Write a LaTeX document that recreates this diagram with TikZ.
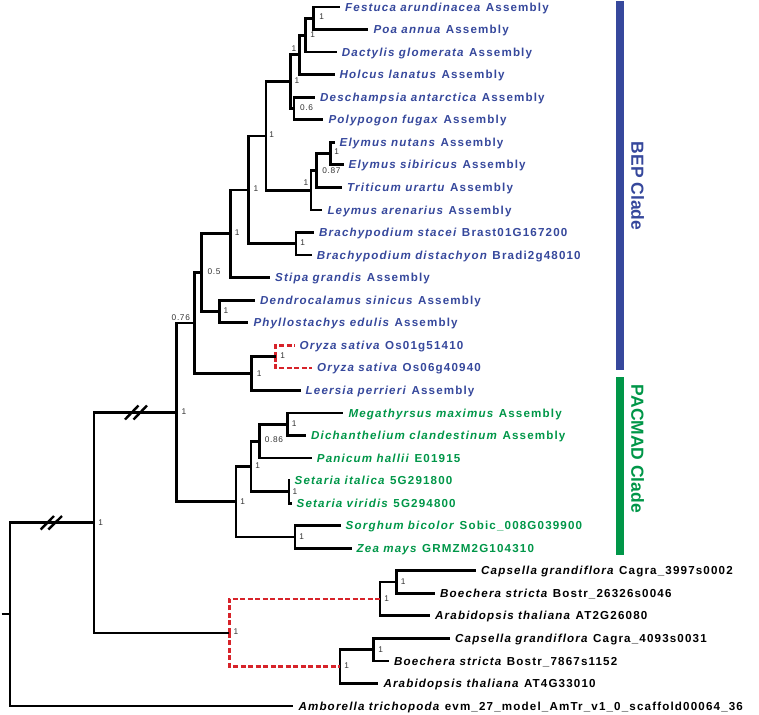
\documentclass[tikz,border=0pt]{standalone}
\usepackage{fontspec}
\setmainfont{Liberation Sans}
\newfontfamily\leaffam[LetterSpace=10]{Liberation Sans}
\newfontfamily\labfam[LetterSpace=8]{Liberation Sans}
\definecolor{bepblue}{RGB}{54,72,156}
\definecolor{pacgreen}{RGB}{0,150,72}
\definecolor{dupred}{RGB}{215,35,42}
\tikzset{
 br/.style={line width=2.8pt, draw=black},
 bb/.style={line width=2.3pt, draw=black},
 dupbr/.style={line width=2.6pt, draw=dupred, dash pattern=on 5pt off 2.5pt},
 leaftext/.style={anchor=base west, inner sep=0pt, font=\leaffam\bfseries\fontsize{11.6}{13}\selectfont},
 bs/.style={inner sep=0pt, font=\labfam\fontsize{8.3}{9}\selectfont, text=black!80},
 slashmark/.style={line width=2.4pt, draw=black},
 cladetext/.style={rotate=-90, inner sep=0pt, font=\bfseries\fontsize{17.5}{20}\selectfont}
}
\newcommand\leafat[6]{\coordinate (#1) at (#2,#3); \node[leaftext,text=#4] (#1t) at ([xshift=5pt,yshift=-4.1pt]#1) {\textit{#5} #6};}
\begin{document}
\begin{tikzpicture}[x=1pt,y=-1pt]
\useasboundingbox (0,0) rectangle (759,714);
% leaves
\leafat{L1}{340}{7}{bepblue}{Festuca arundinacea}{Assembly}
\leafat{L2}{368.3}{29.55}{bepblue}{Poa annua}{Assembly}
\leafat{L3}{336.7}{52.1}{bepblue}{Dactylis glomerata}{Assembly}
\leafat{L4}{334.5}{74.65}{bepblue}{Holcus lanatus}{Assembly}
\leafat{L5}{315}{97.2}{bepblue}{Deschampsia antarctica}{Assembly}
\leafat{L6}{323.3}{119.75}{bepblue}{Polypogon fugax}{Assembly}
\leafat{L7}{334.5}{142.3}{bepblue}{Elymus nutans}{Assembly}
\leafat{L8}{343.5}{164.85}{bepblue}{Elymus sibiricus}{Assembly}
\leafat{L9}{342}{187.4}{bepblue}{Triticum urartu}{Assembly}
\leafat{L10}{322.3}{209.95}{bepblue}{Leymus arenarius}{Assembly}
\leafat{L11}{314}{232.5}{bepblue}{Brachypodium stacei}{Brast01G167200}
\leafat{L12}{311.7}{255.05}{bepblue}{Brachypodium distachyon}{Bradi2g48010}
\leafat{L13}{270}{277.6}{bepblue}{Stipa grandis}{Assembly}
\leafat{L14}{255}{300.15}{bepblue}{Dendrocalamus sinicus}{Assembly}
\leafat{L15}{248.3}{322.7}{bepblue}{Phyllostachys edulis}{Assembly}
\leafat{L16}{294.5}{345.25}{bepblue}{Oryza sativa}{Os01g51410}
\leafat{L17}{312}{367.8}{bepblue}{Oryza sativa}{Os06g40940}
\leafat{L18}{300.5}{390.35}{bepblue}{Leersia perrieri}{Assembly}
\leafat{L19}{343.3}{412.9}{pacgreen}{Megathyrsus maximus}{Assembly}
\leafat{L20}{306}{435.45}{pacgreen}{Dichanthelium clandestinum}{Assembly}
\leafat{L21}{311.7}{458}{pacgreen}{Panicum hallii}{E01915}
\leafat{L22}{289.5}{480.55}{pacgreen}{Setaria italica}{5G291800}
\leafat{L23}{291.5}{503.1}{pacgreen}{Setaria viridis}{5G294800}
\leafat{L24}{340.5}{525.65}{pacgreen}{Sorghum bicolor}{Sobic\_008G039900}
\leafat{L25}{351.5}{548.2}{pacgreen}{Zea mays}{GRMZM2G104310}
\leafat{L26}{476}{570.75}{black}{Capsella grandiflora}{Cagra\_3997s0002}
\leafat{L27}{435}{593.3}{black}{Boechera stricta}{Bostr\_26326s0046}
\leafat{L28}{430}{615.85}{black}{Arabidopsis thaliana}{AT2G26080}
\leafat{L29}{450}{638.4}{black}{Capsella grandiflora}{Cagra\_4093s0031}
\leafat{L30}{389}{660.95}{black}{Boechera stricta}{Bostr\_7867s1152}
\leafat{L31}{378.3}{683.5}{black}{Arabidopsis thaliana}{AT4G33010}
\leafat{L32}{293.3}{706.05}{black}{Amborella trichopoda}{evm\_27\_model\_AmTr\_v1\_0\_scaffold00064\_36}
% internal nodes
\coordinate (nFP) at (313.5,18.3);
\coordinate (nFPD) at (305.5,35.2);
\coordinate (nFPDH) at (299.8,54.9);
\coordinate (nDP) at (294,108.5);
\coordinate (nCore) at (290.5,81.7);
\coordinate (nEE) at (330.5,153.6);
\coordinate (nEET) at (316.8,170.5);
\coordinate (nTrit) at (311,190.2);
\coordinate (nPooid) at (266,136);
\coordinate (nBrachy) at (296,243.8);
\coordinate (nPB) at (248.3,189.9);
\coordinate (nPBS) at (230.8,233.8);
\coordinate (nBamboo) at (219.3,311.4);
\coordinate (nPBSB) at (201.7,272.6);
\coordinate (nOryza) at (275.7,356.5);
\coordinate (nOL) at (251.7,373.4);
\coordinate (nBOP) at (194.3,323);
\coordinate (nMD) at (287.7,424.2);
\coordinate (nMDP) at (259.3,441.1);
\coordinate (nSet) at (289,491.8);
\coordinate (nPCS) at (251,466.5);
\coordinate (nSZ) at (295,536.9);
\coordinate (nPAC) at (236,501.7);
\coordinate (nGrass) at (176.7,412.4);
\coordinate (nC1in) at (396.7,582);
\coordinate (nC1) at (380,598.9);
\coordinate (nC2in) at (373.3,649.7);
\coordinate (nC2) at (340,666.6);
\coordinate (nDup) at (229.3,632.8);
\coordinate (nMono) at (94,522.6);
\coordinate (nRoot) at (10,614.3);
\coordinate (rootstub) at (1.5,614.3);
% branches
\draw[br] (nFP) |- (L1); \draw[br] (nFP) |- (L2);
\draw[br] (nFPD) |- (nFP); \draw[br] (nFPD) |- (L3);
\draw[br] (nFPDH) |- (nFPD); \draw[br] (nFPDH) |- (L4);
\draw[br] (nDP) |- (L5); \draw[br] (nDP) |- (L6);
\draw[br] (nCore) |- (nFPDH); \draw[br] (nCore) |- (nDP);
\draw[br] (nEE) |- (L7); \draw[br] (nEE) |- (L8);
\draw[br] (nEET) |- (nEE); \draw[br] (nEET) |- (L9);
\draw[br] (nTrit) |- (nEET); \draw[br] (nTrit) |- (L10);
\draw[br] (nPooid) |- (nCore); \draw[br] (nPooid) |- (nTrit);
\draw[br] (nBrachy) |- (L11); \draw[br] (nBrachy) |- (L12);
\draw[br] (nPB) |- (nPooid); \draw[br] (nPB) |- (nBrachy);
\draw[br] (nPBS) |- (nPB); \draw[br] (nPBS) |- (L13);
\draw[br] (nBamboo) |- (L14); \draw[br] (nBamboo) |- (L15);
\draw[br] (nPBSB) |- (nPBS); \draw[br] (nPBSB) |- (nBamboo);
\draw[dupbr] (nOryza) |- (L16); \draw[dupbr] (nOryza) |- (L17);
\draw[br] (nOL) |- (nOryza); \draw[br] (nOL) |- (L18);
\draw[br] (nBOP) |- (nPBSB); \draw[br] (nBOP) |- (nOL);
\draw[br] (nMD) |- (L19); \draw[br] (nMD) |- (L20);
\draw[br] (nMDP) |- (nMD); \draw[br] (nMDP) |- (L21);
\draw[br] (nSet) |- (L22); \draw[br] (nSet) |- (L23);
\draw[br] (nPCS) |- (nMDP); \draw[br] (nPCS) |- (nSet);
\draw[br] (nSZ) |- (L24); \draw[br] (nSZ) |- (L25);
\draw[br] (nPAC) |- (nPCS); \draw[br] (nPAC) |- (nSZ);
\draw[br] (nGrass) |- (nBOP); \draw[br] (nGrass) |- (nPAC);
\draw[br] (nC1in) |- (L26); \draw[br] (nC1in) |- (L27);
\draw[br] (nC1) |- (nC1in); \draw[br] (nC1) |- (L28);
\draw[br] (nC2in) |- (L29); \draw[br] (nC2in) |- (L30);
\draw[br] (nC2) |- (nC2in); \draw[br] (nC2) |- (L31);
\draw[dupbr] (nDup) |- (nC1); \draw[dupbr] (nDup) |- (nC2);
\draw[bb] (nMono) |- (nGrass); \draw[bb] (nMono) |- (nDup);
\draw[bb] (nRoot) |- (nMono); \draw[bb] (nRoot) |- (L32);
\draw[bb] (rootstub) -- (nRoot);
% broken-branch marks
\draw[slashmark] (125,419.5) -- (138.5,405.5);
\draw[slashmark] (133.5,419.5) -- (147,405.5);
\draw[slashmark] (40.7,529.5) -- (54,516);
\draw[slashmark] (48.3,529.5) -- (62,516);
% support values
\node[bs] (sFP) at (321.7,16.7) {1};
\node[bs] (sFPD) at (312.7,35) {1};
\node[bs] (sFPDH) at (294,49) {1};
\node[bs] (sCore) at (297,81) {1};
\node[bs] (sDP) at (306.5,107.5) {0.6};
\node[bs] (sEE) at (336.7,151.7) {1};
\node[bs] (sEET) at (331.5,170.7) {0.87};
\node[bs] (sTrit) at (306,182.7) {1};
\node[bs] (sPooid) at (271.7,135) {1};
\node[bs] (sPB) at (256,188.3) {1};
\node[bs] (sBrachy) at (302.7,242.7) {1};
\node[bs] (sPBS) at (237.3,232.7) {1};
\node[bs] (sPBSB) at (214,272) {0.5};
\node[bs] (sBamboo) at (226,311) {1};
\node[bs] (sBOP) at (180.8,317.3) {0.76};
\node[bs] (sOL) at (259.3,373.3) {1};
\node[bs] (sOryza) at (282.7,356) {1};
\node[bs] (sGrass) at (184,411.7) {1};
\node[bs] (sPAC) at (242.7,501.7) {1};
\node[bs] (sPCS) at (257.7,466) {1};
\node[bs] (sMDP) at (274,440) {0.86};
\node[bs] (sMD) at (294.3,424) {1};
\node[bs] (sSet) at (295,491.7) {1};
\node[bs] (sSZ) at (301.7,536.7) {1};
\node[bs] (sMono) at (100.7,522.3) {1};
\node[bs] (sDup) at (236,631.7) {1};
\node[bs] (sC2) at (346.7,666) {1};
\node[bs] (sC2in) at (380.7,649.3) {1};
\node[bs] (sC1) at (386.7,598.3) {1};
\node[bs] (sC1in) at (403.3,581.7) {1};
% clade bars
\fill[bepblue] (616,1.5) rectangle (624,370);
\fill[pacgreen] (616,376.5) rectangle (624,555);
\node[cladetext,text=bepblue] (bep) at (637.5,186) {BEP Clade};
\node[cladetext,text=pacgreen] (pac) at (637.5,449) {PACMAD Clade};
\end{tikzpicture}
\end{document}
